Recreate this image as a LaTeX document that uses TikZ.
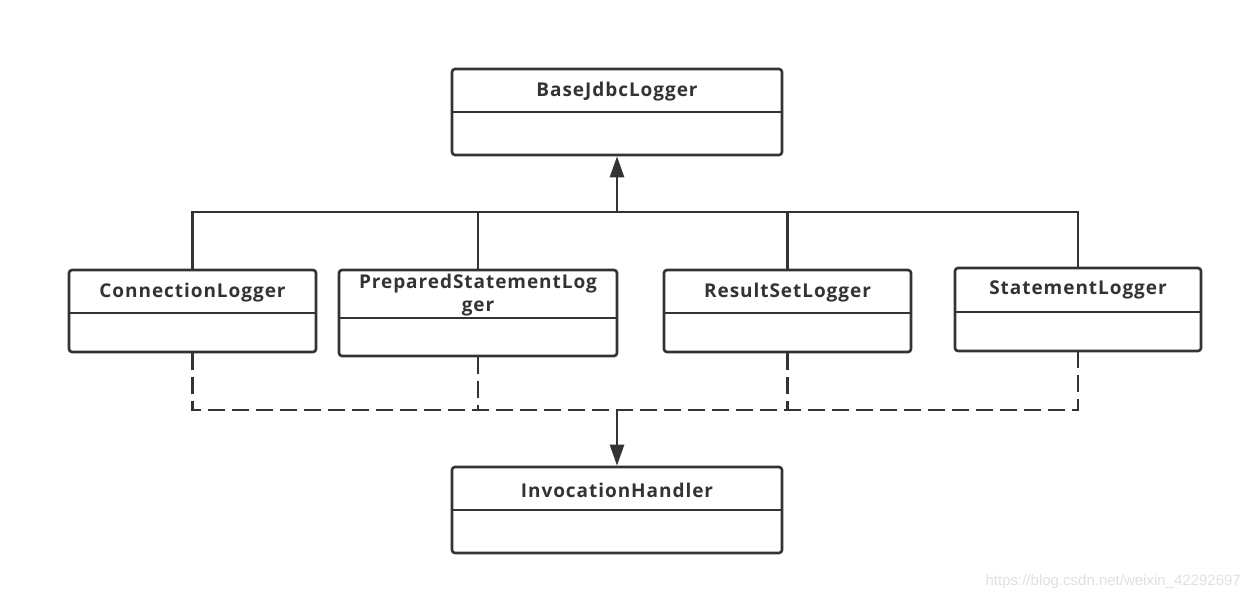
\documentclass[tikz,border=0pt]{standalone}
\usepackage{fontspec}
\setmainfont{Open Sans}
\newfontfamily\ttlfont[LetterSpace=5]{Open Sans}
\newfontfamily\wmfont{Liberation Sans}
\usetikzlibrary{arrows.meta}
\definecolor{ink}{HTML}{333333}
\tikzset{
  cls/.style={draw=ink, line width=2.6pt, rounded corners=3pt, inner sep=0pt},
  ttl/.style={text=ink, font=\ttlfont\fontsize{19}{23}\selectfont\bfseries, align=center, inner sep=0pt},
  wire/.style={draw=ink, line width=2.6pt},
  dwire/.style={wire, dash pattern=on 17pt off 7pt},
  tip/.style={-{Triangle[length=21pt,width=14pt]}},
}
\begin{document}
\begin{tikzpicture}[x=1pt,y=1pt]
\useasboundingbox (0,0) rectangle (1249,600);
% class boxes
\node[cls, minimum width=330pt, minimum height=86pt] (base) at (617,488) {};
\node[cls, minimum width=247pt, minimum height=82pt] (conn) at (192.5,289) {};
\node[cls, minimum width=278pt, minimum height=86pt] (prep) at (478,287) {};
\node[cls, minimum width=247pt, minimum height=82pt] (rset) at (787.5,289) {};
\node[cls, minimum width=246pt, minimum height=83pt] (stmt) at (1078,290.5) {};
\node[cls, minimum width=330pt, minimum height=86pt] (inv) at (617,90) {};
% titles
\node[ttl] (baset) at (617,508) {BaseJdbcLogger};
\node[ttl] (connt) at (192.5,307) {ConnectionLogger};
\node[ttl] (prept) at (478,305) {PreparedStatementLog\\ger};
\node[ttl] (rsett) at (787.5,307) {ResultSetLogger};
\node[ttl] (stmtt) at (1078,310) {StatementLogger};
\node[ttl] (invt) at (617,110) {InvocationHandler};
% dividers
\draw[wire] (base.west |- 0,488) -- (base.east |- 0,488);
\draw[wire] (conn.west |- 0,287) -- (conn.east |- 0,287);
\draw[wire] (prep.west |- 0,282) -- (prep.east |- 0,282);
\draw[wire] (rset.west |- 0,287) -- (rset.east |- 0,287);
\draw[wire] (stmt.west |- 0,288) -- (stmt.east |- 0,288);
\draw[wire] (inv.west |- 0,90) -- (inv.east |- 0,90);
% inheritance
\coordinate (jt) at (617,388);
\draw[wire] (conn.north) |- (jt) -| (stmt.north);
\draw[wire] (prep.north) -- (prep.north |- jt);
\draw[wire] (rset.north) -- (rset.north |- jt);
\draw[wire, tip] (jt) -- (base.south);
% realization
\coordinate (jb) at (617,190);
\draw[dwire] (conn.south) |- (jb) -| (stmt.south);
\draw[dwire] (prep.south) -- (prep.south |- jb);
\draw[dwire] (rset.south) -- (rset.south |- jb);
\draw[wire, tip] (jb) -- (inv.north);
% watermark
\node[text=black!12, font=\wmfont\fontsize{15}{18}\selectfont, anchor=east, inner sep=0pt] (wm) at (1241,18) {https://blog.csdn.net/weixin\_42292697};
\end{tikzpicture}
\end{document}
